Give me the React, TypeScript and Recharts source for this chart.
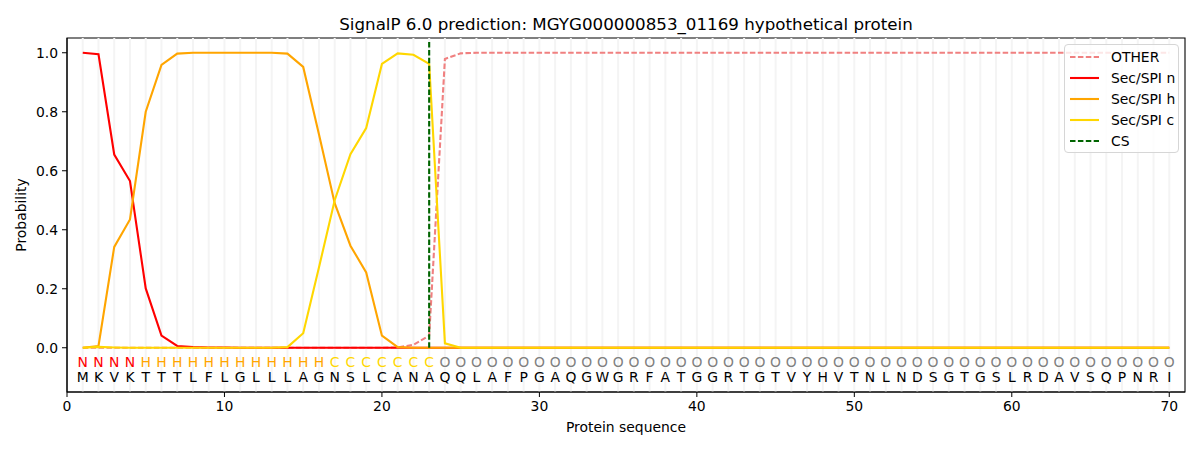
import React from 'react';
import { ComposedChart, Line, XAxis, YAxis, ReferenceLine, ReferenceArea, Label } from 'recharts';

const residues = 'MKVKTTTLFLGLLLAGNSLCANAQQLAFPGAQGWGRFATGGRTGTVYHVTNLNDSGTGSLRDAVSQPNRI'.split('');
const regionLabels = 'NNNNHHHHHHHHHHHHCCCCCCCOOOOOOOOOOOOOOOOOOOOOOOOOOOOOOOOOOOOOOOOOOOOOOO'.split('');

const otherProb = [
  0, 0, 0, 0, 0, 0, 0, 0, 0, 0,
  0, 0, 0, 0, 0, 0, 0, 0, 0, 0,
  0.001, 0.01, 0.041, 0.979, 0.998, 1, 1, 1, 1, 1,
  1, 1, 1, 1, 1, 1, 1, 1, 1, 1,
  1, 1, 1, 1, 1, 1, 1, 1, 1, 1,
  1, 1, 1, 1, 1, 1, 1, 1, 1, 1,
  1, 1, 1, 1, 1, 1, 1, 1, 1, 1,
];
const nProb = [
  1.0, 0.995, 0.655, 0.565, 0.201, 0.041, 0.006, 0.002, 0.001, 0.001,
  0, 0, 0, 0, 0, 0, 0, 0, 0, 0,
  0, 0, 0, 0, 0, 0, 0, 0, 0, 0,
  0, 0, 0, 0, 0, 0, 0, 0, 0, 0,
  0, 0, 0, 0, 0, 0, 0, 0, 0, 0,
  0, 0, 0, 0, 0, 0, 0, 0, 0, 0,
  0, 0, 0, 0, 0, 0, 0, 0, 0, 0,
];
const hProb = [
  0, 0.006, 0.342, 0.435, 0.8, 0.959, 0.997, 1, 1, 1,
  1, 1, 1, 0.997, 0.952, 0.724, 0.49, 0.346, 0.255, 0.041,
  0.002, 0, 0, 0, 0, 0, 0, 0, 0, 0,
  0, 0, 0, 0, 0, 0, 0, 0, 0, 0,
  0, 0, 0, 0, 0, 0, 0, 0, 0, 0,
  0, 0, 0, 0, 0, 0, 0, 0, 0, 0,
  0, 0, 0, 0, 0, 0, 0, 0, 0, 0,
];
const cProb = [
  0, 0.003, 0.001, 0, 0, 0, 0, 0, 0, 0,
  0, 0, 0, 0.002, 0.049, 0.272, 0.5, 0.656, 0.745, 0.962,
  0.998, 0.993, 0.962, 0.015, 0, 0, 0, 0, 0, 0,
  0, 0, 0, 0, 0, 0, 0, 0, 0, 0,
  0, 0, 0, 0, 0, 0, 0, 0, 0, 0,
  0, 0, 0, 0, 0, 0, 0, 0, 0, 0,
  0, 0, 0, 0, 0, 0, 0, 0, 0, 0,
];
const csPosition = 23;
const csTop = 1.04;
const xTicks = [0, 10, 20, 30, 40, 50, 60, 70];
const yTicks = [0, 0.2, 0.4, 0.6, 0.8, 1.0];

const FONT = '"DejaVu Sans", sans-serif';
const REGION_ROW_Y = -0.047;
const SEQ_ROW_Y = -0.1;
const regionColors: Record<string, string> = { N: '#ff0000', H: '#ffa500', C: '#ffd700', O: '#808080' };

const rows = residues.map((aa, i) => ({
  x: i + 1,
  aa,
  region: regionLabels[i],
  other: otherProb[i],
  n: nProb[i],
  h: hProb[i],
  c: cProb[i],
  regionRow: REGION_ROW_Y,
  seqRow: SEQ_ROW_Y,
}));

const series = [
  { key: 'other', name: 'OTHER', color: '#f08080', dash: '5.5 2.4' },
  { key: 'n', name: 'Sec/SPI n', color: '#ff0000', dash: undefined },
  { key: 'h', name: 'Sec/SPI h', color: '#ffa500', dash: undefined },
  { key: 'c', name: 'Sec/SPI c', color: '#ffd700', dash: undefined },
];
const legendItems = [...series, { key: 'cs', name: 'CS', color: '#006400', dash: '5.5 2.4' }];

const regionDot = (props: any) => {
  const { cx, cy, payload, index } = props;
  return (
    <text key={`r${index}`} x={cx} y={cy} textAnchor="middle" dominantBaseline="central"
      fontSize={13.9} fontFamily={FONT} fill={regionColors[payload.region]}>
      {payload.region}
    </text>
  );
};
const seqDot = (props: any) => {
  const { cx, cy, payload, index } = props;
  return (
    <text key={`s${index}`} x={cx} y={cy} textAnchor="middle" dominantBaseline="central"
      fontSize={13.9} fontFamily={FONT} fill="#000">
      {payload.aa}
    </text>
  );
};

export default function App() {
  return (
    <div style={{ position: 'absolute', left: 0, top: 0, width: 1200, height: 450, background: '#fff', fontFamily: FONT }}>
      <div style={{ position: 'absolute', left: 67, width: 1118, top: 14, textAlign: 'center', fontSize: 16.7, color: '#000', lineHeight: '20px' }}>
        SignalP 6.0 prediction: MGYG000000853_01169 hypothetical protein
      </div>
      <ComposedChart width={1200} height={450} data={rows} margin={{ top: 38, right: 15, left: 0, bottom: 0 }}>
        <XAxis type="number" dataKey="x" domain={[0, 71]} ticks={xTicks} height={58}
          tickSize={5} tickMargin={4} stroke="#000" tick={{ fill: '#000', fontSize: 13.9, fontFamily: FONT }}
          allowDataOverflow>
          <Label value="Protein sequence" position="insideBottom" offset={18} fill="#000" fontSize={13.9} fontFamily={FONT} />
        </XAxis>
        <YAxis type="number" domain={[-0.15, 1.05]} ticks={yTicks} width={67} tickSize={5} tickMargin={4}
          stroke="#000" tick={{ fill: '#000', fontSize: 13.9, fontFamily: FONT }}
          tickFormatter={(v: number) => v.toFixed(1)} allowDataOverflow>
          <Label value="Probability" angle={-90} position="insideLeft" offset={21} fill="#000" fontSize={13.9} fontFamily={FONT} style={{ textAnchor: 'middle' }} />
        </YAxis>
        {rows.map((r) => (
          <ReferenceLine key={`g${r.x}`} x={r.x} stroke="#f4f4f4" strokeWidth={2} />
        ))}
        {series.map((s) => (
          <Line key={s.key} type="linear" dataKey={s.key} name={s.name} stroke={s.color} strokeWidth={2.1}
            strokeDasharray={s.dash} dot={false} activeDot={false} isAnimationActive={false} />
        ))}
        <ReferenceLine segment={[{ x: csPosition, y: 0 }, { x: csPosition, y: csTop }]} stroke="#006400"
          strokeWidth={2.1} strokeDasharray="5.5 2.4" />
        <Line dataKey="regionRow" stroke="none" dot={regionDot} activeDot={false} isAnimationActive={false} legendType="none" />
        <Line dataKey="seqRow" stroke="none" dot={seqDot} activeDot={false} isAnimationActive={false} legendType="none" />
        <ReferenceArea x1={0} x2={71} y1={-0.15} y2={1.05} fill="none" stroke="#000" strokeWidth={1.1} />
      </ComposedChart>
      <div style={{ position: 'absolute', left: 1064, top: 44, width: 113, height: 107, border: '1px solid #d6d6d6', borderRadius: 4, background: 'rgba(255,255,255,0.8)' }}>
        {legendItems.map((it, i) => (
          <div key={it.key} style={{ position: 'absolute', left: 0, top: 2 + i * 21, height: 20, width: 113, display: 'flex', alignItems: 'center' }}>
            <svg width={46} height={20} style={{ display: 'block' }}>
              <line x1={5} x2={34} y1={10} y2={10} stroke={it.color} strokeWidth={2.1} strokeDasharray={it.dash} />
            </svg>
            <span style={{ fontSize: 13.9, color: '#000', whiteSpace: 'nowrap' }}>{it.name}</span>
          </div>
        ))}
      </div>
    </div>
  );
}
